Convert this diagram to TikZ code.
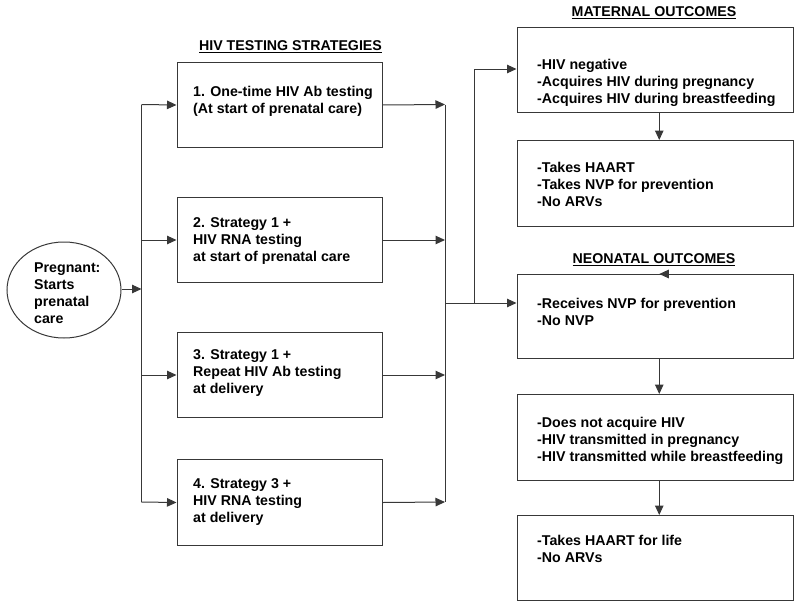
\documentclass[tikz,border=0pt]{standalone}
\usepackage{fontspec}
\setmainfont{Liberation Sans}
\usetikzlibrary{arrows.meta,shapes.geometric}
\tikzset{
  lbox/.style={draw=black!78, line width=1pt, inner sep=0pt, anchor=north west, minimum width=205pt},
  rbox/.style={draw=black!78, line width=1pt, inner sep=0pt, anchor=north west, minimum width=276.5pt},
  txt/.style={font=\fontsize{14.2}{17}\selectfont\bfseries, align=left, anchor=north west, inner sep=0pt},
  ttl/.style={font=\fontsize{14.2}{17}\selectfont\bfseries, inner sep=0pt},
  ln/.style={draw=black!78, line width=1pt},
  arr/.style={ln, -{Triangle[length=9.5pt,width=8.5pt]}}
}
\begin{document}
\begin{tikzpicture}[x=1pt,y=-1pt]
\useasboundingbox (0,0) rectangle (800,608);
% start ellipse
\node[ellipse, draw=black!78, line width=1pt, minimum width=114pt, minimum height=96pt, inner sep=0pt] (preg) at (64,290) {};
\node[txt, font=\fontsize{14.2}{16.7}\selectfont\bfseries] (pregt) at (34,263) {Pregnant:\\Starts\\prenatal\\care};
% titles
\node[ttl] (t1) at (290.5,47) {\underline{HIV TESTING STRATEGIES}};
\node[ttl] (t2) at (654,13) {\underline{MATERNAL OUTCOMES}};
\node[ttl] (t3) at (654,260) {\underline{NEONATAL OUTCOMES}};
% strategy boxes
\node[lbox, minimum height=85pt] (s1) at (176.5,62) {};
\node[lbox, minimum height=85pt] (s2) at (176.5,197) {};
\node[lbox, minimum height=85pt] (s3) at (176.5,332) {};
\node[lbox, minimum height=86pt] (s4) at (176.5,459) {};
\node[txt] (s1t) at (193,86) {1. One-time HIV Ab testing\\(At start of prenatal care)};
\node[txt] (s2t) at (193,217) {2. Strategy 1 +\\HIV RNA testing\\at start of prenatal care};
\node[txt] (s3t) at (193,349) {3. Strategy 1 +\\Repeat HIV Ab testing\\at delivery};
\node[txt] (s4t) at (193,478) {4. Strategy 3 +\\HIV RNA testing\\at delivery};
% outcome boxes
\node[rbox, minimum height=85pt] (m1) at (516.5,27) {};
\node[rbox, minimum height=86pt] (m2) at (516.5,140) {};
\node[rbox, minimum height=84pt] (n1) at (516.5,274) {};
\node[rbox, minimum height=86pt] (n2) at (516.5,394) {};
\node[rbox, minimum height=85pt] (n3) at (516.5,515) {};
\node[txt] (m1t) at (537,59) {-HIV negative\\-Acquires HIV during pregnancy\\-Acquires HIV during breastfeeding};
\node[txt] (m2t) at (537,162) {-Takes HAART\\-Takes NVP for prevention\\-No ARVs};
\node[txt] (n1t) at (537,298) {-Receives NVP for prevention\\-No NVP};
\node[txt] (n2t) at (537,417) {-Does not acquire HIV\\-HIV transmitted in pregnancy\\-HIV transmitted while breastfeeding};
\node[txt] (n3t) at (537,535) {-Takes HAART for life\\-No ARVs};
% left trunk
\coordinate (lt) at (141.5,289);
\coordinate (ltop) at (141.5,104.5);
\coordinate (lbot) at (141.5,502);
\draw[arr] (preg.east |- lt) -- (lt);
\draw[ln] (ltop) -- (lbot);
\draw[arr] (ltop) -- (s1.west);
\draw[arr] (s2.west -| lt) -- (s2.west);
\draw[arr] (s3.west -| lt) -- (s3.west);
\draw[arr] (lbot) -- (s4.west);
% right trunk
\coordinate (rtop) at (445,104.5);
\coordinate (rbot) at (445,502);
\draw[arr] (s1.east) -- (rtop);
\draw[arr] (s2.east) -- (s2.east -| rtop);
\draw[arr] (s3.east) -- (s3.east -| rtop);
\draw[arr] (s4.east) -- (rbot);
\draw[ln] (rtop) -- (rbot);
\coordinate (rj) at (445,303);
\coordinate (bj) at (474,303);
\coordinate (bt) at (474,69);
\draw[arr] (rj) -- (rj -| n1.west);
\draw[arr] (bj) -- (bt) -- (bt -| m1.west);
% vertical arrows
\draw[arr] ([xshift=4pt]m1.south) -- ([xshift=4pt]m2.north);
\draw[arr] ([xshift=4pt]n1.south) -- ([xshift=4pt]n2.north);
\draw[arr] ([xshift=4pt]n2.south) -- ([xshift=4pt]n3.north);
% stray arrowhead on neonatal box
\draw[arr] ([xshift=16pt]n1.north) -- ([xshift=4pt]n1.north);
\end{tikzpicture}
\end{document}
